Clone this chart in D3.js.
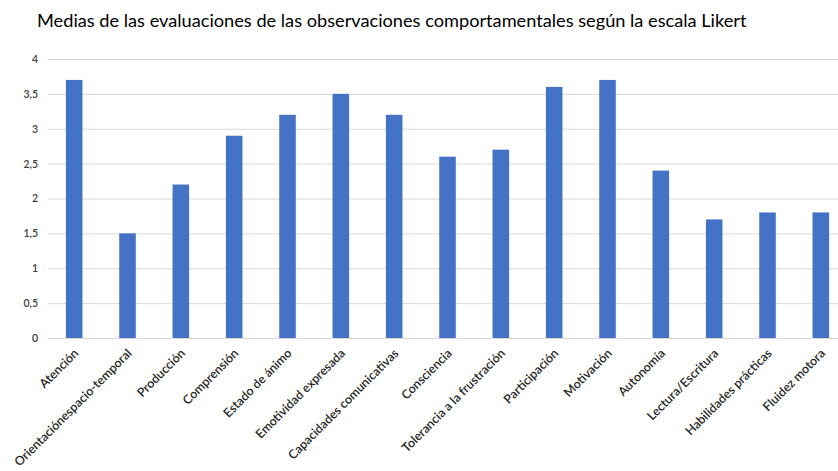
<!DOCTYPE html>
<html><head><meta charset="utf-8">
<script src="https://cdn.jsdelivr.net/npm/d3@7"></script>
<style>body{margin:0;background:#fff}svg{display:block}</style>
</head><body>
<svg id="c" width="838" height="471"></svg>
<script>
const categories = ["Atención","Orientaciónespacio-temporal","Producción","Comprensión","Estado de ánimo","Emotividad expresada","Capacidades comunicativas","Consciencia","Tolerancia a la frustración","Participación","Motivación","Autonomía","Lectura/Escritura","Habilidades prácticas","Fluidez motora"];
const values = [3.7,1.5,2.2,2.9,3.2,3.5,3.2,2.6,2.7,3.6,3.7,2.4,1.7,1.8,1.8];
const yTicks = [0,0.5,1,1.5,2,2.5,3,3.5,4];
const yTickLabels = ["0","0,5","1","1,5","2","2,5","3","3,5","4"];
const title = "Medias de las evaluaciones de las observaciones comportamentales según la escala Likert";

const svg = d3.select("#c");
const font = "Lato, 'Open Sans', sans-serif";
const x = d3.scaleBand().domain(categories).range([47.5, 847.5]).paddingInner(0.69).paddingOuter(0.345);
const y = d3.scaleLinear().domain([0,4]).range([338, 59]);

svg.append("text").attr("x", 37).attr("y", 27).attr("font-family", font).attr("font-size", 18.2)
  .attr("fill", "#000").text(title);

const yAxis = d3.axisLeft(y).tickValues(yTicks).tickFormat((d,i)=>yTickLabels[i]).tickSize(-800).tickPadding(10);
const ga = svg.append("g").attr("transform","translate(48,0)").call(yAxis);
ga.select(".domain").remove();
ga.selectAll(".tick line").attr("stroke","#d9d9d9").attr("stroke-width",1);
ga.selectAll(".tick text").attr("font-family",font).attr("font-size",10.5).attr("font-weight",600).attr("fill","#404040");

svg.append("g").selectAll("rect").data(values).join("rect")
  .attr("x",(d,i)=>x(categories[i])).attr("width",x.bandwidth())
  .attr("y",d=>y(d)).attr("height",d=>y(0)-y(d)).attr("fill","#4472C4");

svg.append("g").selectAll("text").data(categories).join("text")
  .attr("transform",d=>`translate(${x(d)+x.bandwidth()/2+2},${351}) rotate(-45)`)
  .attr("text-anchor","end").attr("dy","0.35em")
  .attr("font-family",font).attr("font-size",12.4).attr("font-weight",600).attr("fill","#262626")
  .text(d=>d);
</script>
</body></html>
